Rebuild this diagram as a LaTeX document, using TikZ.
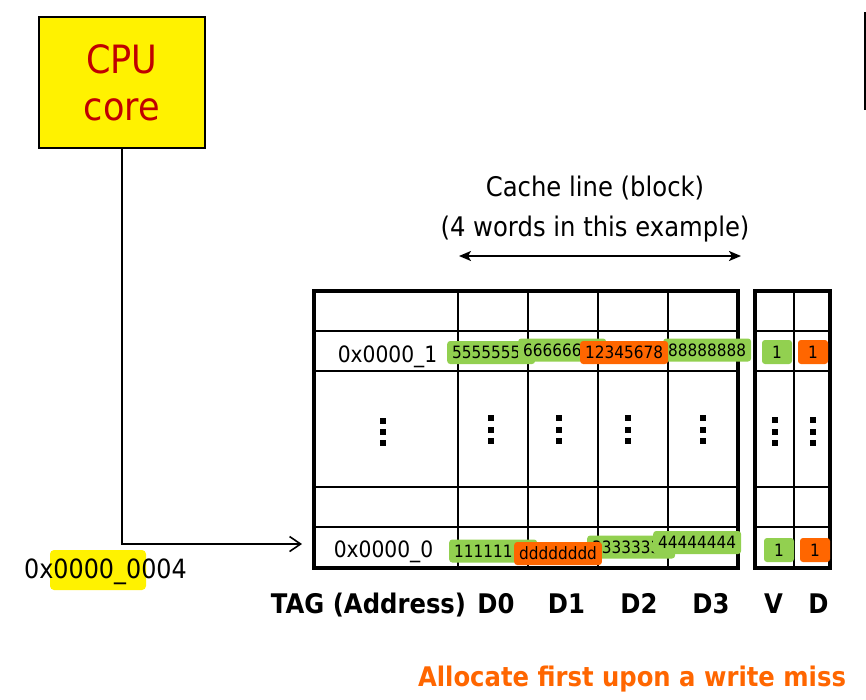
\documentclass[tikz,border=0pt]{standalone}
\usepackage{fontspec}
\setmainfont{DejaVu Sans}[FakeStretch=0.9]
\usetikzlibrary{arrows.meta}
\definecolor{cpured}{RGB}{192,0,0}
\definecolor{bgreen}{RGB}{146,208,80}
\definecolor{borange}{RGB}{255,102,0}
\begin{document}
\begin{tikzpicture}[x=1pt,y=-1pt,
  lbl/.style={font=\fontsize{27}{32}\selectfont, inner sep=0pt, anchor=base},
  cell/.style={font=\fontsize{22.5}{27}\selectfont, inner sep=0pt, anchor=base},
  colhead/.style={font=\bfseries\fontsize{27}{32}\selectfont, inner sep=0pt, anchor=base},
  badge/.style={rounded corners=3pt, font=\fontsize{17}{20}\selectfont, inner xsep=5pt, inner ysep=0pt, minimum height=23pt, text height=12.4pt, text depth=0pt, anchor=west},
  gbadge/.style={badge, fill=bgreen},
  obadge/.style={badge, fill=borange},
  bitbadge/.style={rounded corners=3pt, font=\fontsize{17}{20}\selectfont, inner sep=0pt, minimum width=30pt, minimum height=24pt, text height=12.4pt, text depth=0pt},
  gridthick/.style={line width=3.2pt},
  gridthin/.style={line width=2.4pt}
]
\useasboundingbox (0,0) rectangle (866,699);

% stray edge line at the top right
\draw[line width=1.5pt] (865,12) -- (865,110);

% CPU core
\node[draw, line width=2.2pt, fill=yellow, minimum width=166pt, minimum height=131pt, inner sep=0pt,
      align=center, text=cpured, font=\fontsize{39}{47}\selectfont] (cpu) at (122,82.5) {CPU\\core};

% header
\node[lbl] (hdr1) at (595,196) {Cache line (block)};
\node[lbl] (hdr2) at (595,236) {(4 words in this example)};
\coordinate (spanL) at (459,256);
\coordinate (spanR) at (741,256);
\draw[line width=2pt, {Stealth[length=12pt,width=10pt,inset=3pt]}-{Stealth[length=12pt,width=10pt,inset=3pt]}] (spanL) -- (spanR);

% main table grid
\foreach \y in {331,371,487,527} \draw[gridthin] (314,\y) -- (738,\y);
\foreach \x in {458,528,598,668} \draw[gridthin] (\x,291) -- (\x,568);
\draw[gridthick] (314,291) rectangle (738,568);

% V / D table grid
\foreach \y in {331,371,487,527} \draw[gridthin] (755,\y) -- (830,\y);
\draw[gridthin] (794,291) -- (794,568);
\draw[gridthick] (755,291) rectangle (830,568);

% dots
\foreach \y in {421,432,443} \fill (380,\y-3) rectangle (386,\y+3);
\foreach \x in {491,559,628,703} \foreach \y in {418,429.5,441} \fill (\x-3,\y-3) rectangle (\x+3,\y+3);
\foreach \x in {775,813} \foreach \y in {420,431.5,443} \fill (\x-3,\y-3) rectangle (\x+3,\y+3);

% tags
\node[cell] (tag1) at (387.5,362) {0x0000\_1};
\node[cell] (tag0) at (383.5,557) {0x0000\_0};

% row 1 data
\node[gbadge] (b5) at (447,352.5) {55555555};
\node[gbadge] (b6) at (518,350) {66666666};
\node[gbadge] (b8) at (663,350) {88888888};
\node[obadge] (bw1) at (580,352.5) {12345678};
\node[bitbadge, fill=bgreen] (v1) at (777,352) {1};
\node[bitbadge, fill=borange] (d1) at (813,352) {1};

% row 0 data
\node[gbadge] (b1) at (449,551) {11111111};
\node[gbadge] (b3) at (587,547) {33333333};
\node[gbadge] (b4) at (653,542.5) {44444444};
\node[obadge] (bw0) at (514,553.5) {dddddddd};
\node[bitbadge, fill=bgreen] (v0) at (779,550) {1};
\node[bitbadge, fill=borange] (d0) at (815,550) {1};

% address
\fill[yellow, rounded corners=4pt] (50,550) rectangle (146,590);
\node[lbl, anchor=base west, font=\fontsize{26.5}{32}\selectfont] (addr) at (24,578) {0x0000\_0004};

% connector CPU -> tag
\coordinate (tagin) at (302,544);
\draw[line width=1.6pt, -{Straight Barb[length=11pt,width=15pt]}] (cpu.south) |- (tagin);

% column heads
\node[colhead] (hTAG) at (368.5,613) {TAG (Address)};
\node[colhead] (hD0) at (496,613) {D0};
\node[colhead] (hD1) at (566.5,613) {D1};
\node[colhead] (hD2) at (639,613) {D2};
\node[colhead] (hD3) at (711,613) {D3};
\node[colhead] (hV) at (773.5,613) {V};
\node[colhead] (hD) at (818.5,613) {D};

% note
\node[colhead, text=borange] (note) at (632,686) {Allocate first upon a write miss};
\end{tikzpicture}
\end{document}
